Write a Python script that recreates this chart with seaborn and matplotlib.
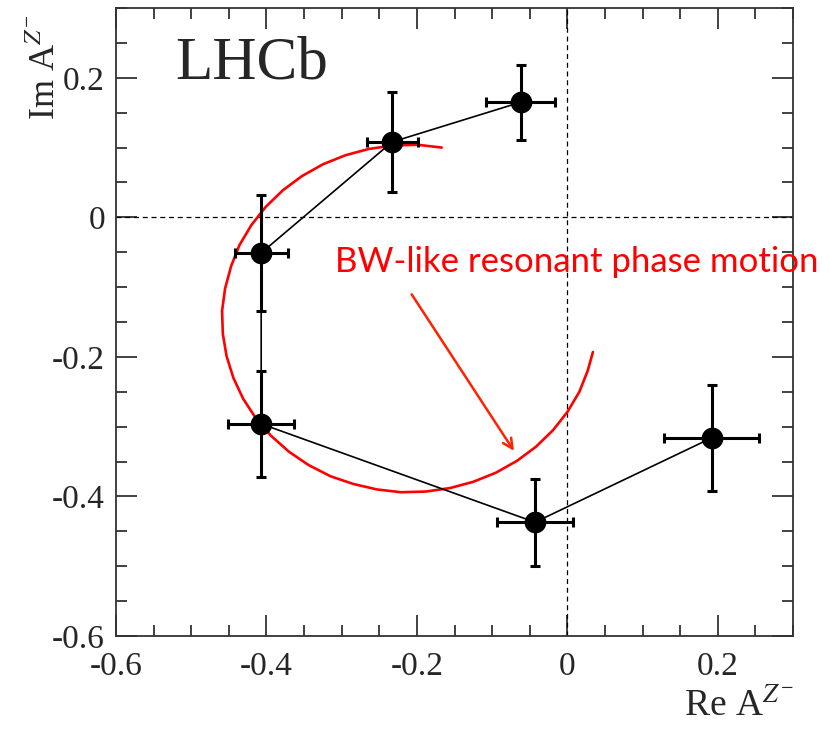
import numpy as np
import pandas as pd
import matplotlib
matplotlib.use("Agg")
import matplotlib.pyplot as plt
import seaborn as sns

# Argand diagram points (Re, Im) with errors
re_vals = [-0.062, -0.233, -0.407, -0.407, -0.043, 0.192]
im_vals = [0.165, 0.108, -0.051, -0.296, -0.437, -0.316]
re_err = [0.046, 0.034, 0.035, 0.044, 0.051, 0.063]
im_err = [0.054, 0.071, 0.083, 0.076, 0.062, 0.076]

# BW-like curve
bw_re = [-0.167, -0.199, -0.232, -0.264, -0.295, -0.325, -0.353, -0.378, -0.401,
         -0.420, -0.436, -0.447, -0.455, -0.459, -0.458, -0.453, -0.444, -0.431,
         -0.414, -0.394, -0.370, -0.344, -0.315, -0.285, -0.253, -0.221, -0.188,
         -0.156, -0.125, -0.095, -0.067, -0.042, -0.019, 0.000, 0.016, 0.027, 0.034]
bw_im = [0.100, 0.104, 0.103, 0.098, 0.089, 0.076, 0.059, 0.039, 0.015,
         -0.011, -0.040, -0.070, -0.102, -0.134, -0.167, -0.199, -0.230, -0.260,
         -0.288, -0.313, -0.336, -0.355, -0.371, -0.382, -0.390, -0.394, -0.393,
         -0.388, -0.379, -0.366, -0.349, -0.329, -0.305, -0.279, -0.250, -0.220, -0.193]

x_ticks = [-0.6, -0.4, -0.2, 0, 0.2]
y_ticks = [-0.6, -0.4, -0.2, 0, 0.2]
tick_labels = ["-0.6", "-0.4", "-0.2", "0", "0.2"]

df = pd.DataFrame({"re": re_vals, "im": im_vals})
bw = pd.DataFrame({"re": bw_re, "im": bw_im})

sns.set_style("ticks")
plt.rcParams["font.family"] = ["Liberation Serif", "DejaVu Serif"]
plt.rcParams["mathtext.fontset"] = "stix"

fig = plt.figure(figsize=(8.31, 7.29), dpi=100)
ax = fig.add_axes([0.1396, 0.1276, 0.8147, 0.8614])

ax.axhline(0, color="black", lw=0.9, ls=(0, (4, 3)), zorder=1)
ax.axvline(0, color="black", lw=0.9, ls=(0, (4, 3)), zorder=1)

sns.lineplot(data=bw, x="re", y="im", sort=False, estimator=None, color="red",
             lw=1.9, ax=ax, zorder=2)
sns.lineplot(data=df, x="re", y="im", sort=False, estimator=None, color="black",
             lw=1.2, ax=ax, zorder=3)
ax.errorbar(re_vals, im_vals, xerr=re_err, yerr=im_err, fmt="none", ecolor="black",
            elinewidth=2.2, capsize=3.5, capthick=2.2, zorder=4)
sns.scatterplot(data=df, x="re", y="im", color="black", s=210, edgecolor="black",
                ax=ax, zorder=5)

ax.annotate("", xy=(-0.069, -0.338), xytext=(-0.209, -0.107),
            arrowprops=dict(arrowstyle="->,head_length=0.7,head_width=0.35",
                            color="#ff2200", lw=1.8))
ax.text(-0.309, -0.064, "BW-like resonant phase motion", color="red",
        fontsize=25, family=["Lato", "DejaVu Sans"], va="center", ha="left",
        clip_on=False)

ax.text(0.087, 0.912, "LHCb", transform=ax.transAxes, fontsize=44,
        va="center", ha="left")

ax.set_xlim(-0.6, 0.3)
ax.set_ylim(-0.6, 0.3)
ax.set_xticks(x_ticks)
ax.set_xticklabels(tick_labels)
ax.set_yticks(y_ticks)
ax.set_yticklabels(tick_labels)
ax.set_xticks(np.arange(-0.6, 0.31, 0.05), minor=True)
ax.set_yticks(np.arange(-0.6, 0.31, 0.05), minor=True)
ax.tick_params(which="both", direction="in", top=True, right=True, width=1.3,
               labelsize=24, color="#333333")
ax.tick_params(which="major", length=15)
ax.tick_params(axis="x", which="major", pad=11)
ax.tick_params(axis="y", which="major", pad=8)
ax.tick_params(which="minor", length=8)
for s in ax.spines.values():
    s.set_linewidth(1.3)
    s.set_color("#333333")

ax.set_xlabel(r"Re A$^{Z^{-}}$", fontsize=27, loc="right")
ax.set_ylabel(r"Im A$^{Z^{-}}$", fontsize=26, loc="top")
ax.xaxis.set_label_coords(1.0, -0.084)
ax.yaxis.set_label_coords(-0.078, 0.99)

fig.savefig("out.png", dpi=100)
